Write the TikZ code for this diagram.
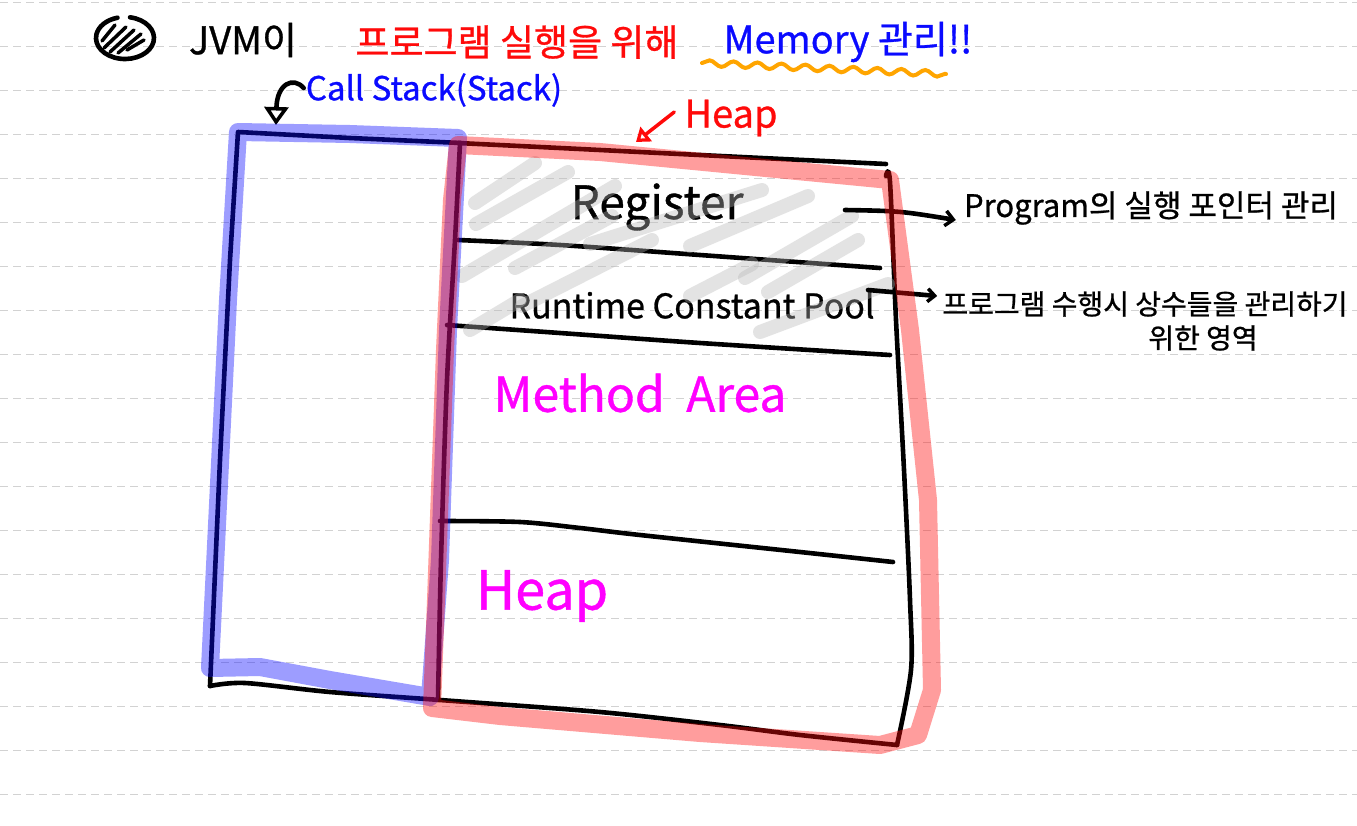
\documentclass[tikz,border=0pt]{standalone}
\usepackage{fontspec}
\setmainfont{Noto Sans CJK KR}[FakeBold=0.8]
\usetikzlibrary{arrows.meta,decorations.pathmorphing,calc}

\definecolor{inkblue}{HTML}{0A0AFF}
\definecolor{inkred}{HTML}{FF0A0A}
\definecolor{inkmag}{HTML}{FF00FF}
\definecolor{inkorange}{HTML}{FFA500}
\definecolor{ruleline}{HTML}{D2D2D2}

\begin{document}
\begin{tikzpicture}[x=1pt,y=-1pt,
  pen/.style={line width=4.6pt,line cap=round,line join=round},
  hilite/.style={line width=18pt,line cap=round,line join=round,opacity=0.4},
  ruling/.style={ruleline,line width=1pt,dash pattern=on 8pt off 5pt},
  hand/.style={inner sep=0pt,anchor=center},
  hatch/.style={line width=14pt,line cap=round,color=black!28,opacity=0.38},
  fs/.style={font=\fontsize{#1}{#1}\selectfont},
]
\useasboundingbox (0,0) rectangle (1357,825);
\fill[white] (0,0) rectangle (1357,825);

% ruled notebook lines
\foreach \k in {0,...,18}
  \draw[ruling] (0,2+44*\k) -- (1357,2+44*\k);

% ---------- title ----------
\draw[pen] ([shift={(125,38)}]-80:29 and 21) arc[start angle=-80,end angle=255,x radius=29,y radius=21];
\foreach \a/\b/\c/\d in {102/41/115/25, 104/48/126/27, 110/52/134/30, 118/53/141/34, 127/50/144/40}
  \draw[line width=3.5pt,line cap=round] (\a,\b) -- (\c,\d);

\node[hand,fs=38] (t1) at (243,40) {JVM이};
\node[hand,fs=37,text=inkred] (t2) at (517,42) {프로그램 실행을 위해};
\node[hand,fs=38,text=inkblue] (t3) at (848,42) {Memory 관리!!};
\draw[inkorange,line width=4pt,line cap=round,decorate,
      decoration={snake,amplitude=3pt,segment length=24pt}] (702,63) -- (946,74);

% ---------- labels above the boxes ----------
\node[hand,fs=33,text=inkblue] (callstack) at (434,90) {Call Stack(Stack)};
\node[hand,fs=38,text=inkred] (heaplbl) at (731,118) {Heap};

\draw[pen,-{Triangle[open,length=18pt,width=24pt,line width=3.5pt]}]
  ($(callstack.west)+(-2,-2)$) .. controls (293,76) and (277,84) .. (276,125);
\draw[inkred,line width=3.5pt,line cap=round,-{Triangle[open,length=13pt,width=18pt,line width=3.5pt]}]
  ($(heaplbl.west)+(-10,-6)$) -- (636,142);

% ---------- black frame of the memory areas ----------
% call stack
\draw[pen] (461,143) -- (350,138) -- (238,132) -- (230,260) -- (220,460) -- (210,686);
% heap-side outline
\draw[pen] plot[smooth,tension=0.5] coordinates {(458,143) (560,148) (700,155) (886,164)};
\draw[pen] plot[smooth,tension=0.5] coordinates {(886,176) (890,182) (896,320) (904,470) (910,600) (911,670) (897,745)};
\draw[pen] plot[smooth,tension=0.5] coordinates {(210,686) (245,683) (330,692) (440,700) (600,712) (720,725) (800,735) (897,745)};
\draw[pen] plot[smooth,tension=0.5] coordinates {(460,143) (455,240) (447,380) (441,560) (438,700)};
% dividers
\draw[pen] plot[smooth,tension=0.5] coordinates {(458,240) (560,245) (700,255) (880,268)};
\draw[pen] plot[smooth,tension=0.5] coordinates {(447,325) (560,333) (700,343) (890,355)};
\draw[pen] plot[smooth,tension=0.5] coordinates {(440,521) (520,522) (580,528) (640,535) (800,552) (893,562)};

% ---------- area names ----------
\node[hand,fs=46] (register) at (657,207) {Register};
\node[hand,fs=34] (rcp) at (692,305) {Runtime Constant Pool};
\node[hand,fs=48,text=inkmag] (method) at (640,393) {Method\hspace{0.45em}Area};
\node[hand,fs=54,text=inkmag] (heap) at (542,596) {Heap};

% shading over the register / constant pool part
\foreach \a/\b/\c/\d in {
  475/203/535/163, 476/224/568/172, 462/276/615/186, 515/268/612/216,
  522/306/652/240, 590/244/762/190, 690/246/808/196, 745/278/852/216,
  768/292/858/240, 760/332/888/284, 690/296/752/264, 470/330/520/300}
  \draw[hatch] (\a,\b) -- (\c,\d);

% ---------- notes on the right ----------
\node[hand,fs=31] (desc1) at (1151,208) {Program의 실행 포인터 관리};
\node[hand,fs=28] (desc2a) at (1145,304) {프로그램 수행시 상수들을 관리하기};
\node[hand,fs=28] (desc2b) at (1203,338) {위한 영역};

\coordinate (regout) at (845,210);
\coordinate (rcpout) at (868,290);
\draw[pen,-{Straight Barb[length=8pt,width=15pt,line width=3.5pt]}]
  (regout) .. controls (900,211) .. ($(desc1.west)+(-8,12)$);
\draw[pen,-{Straight Barb[length=7pt,width=13pt,line width=3.5pt]}]
  (rcpout) -- ($(desc2a.west)+(-5,-8)$);

% ---------- highlighter strokes ----------
\draw[hilite,inkblue] (458,138) -- (350,134) -- (238,132) -- (228,300) -- (210,668)
  -- (260,667) -- (330,680) -- (430,697) -- (440,560) -- (448,330) -- cycle;
\draw[hilite,inkred] (458,145) -- (600,152) -- (890,180) -- (910,330) -- (928,500)
  -- (932,690) -- (918,735) -- (880,745) -- (700,733) -- (500,716) -- (432,708)
  -- (436,600) -- (445,350) -- (452,200) -- cycle;

\end{tikzpicture}
\end{document}
